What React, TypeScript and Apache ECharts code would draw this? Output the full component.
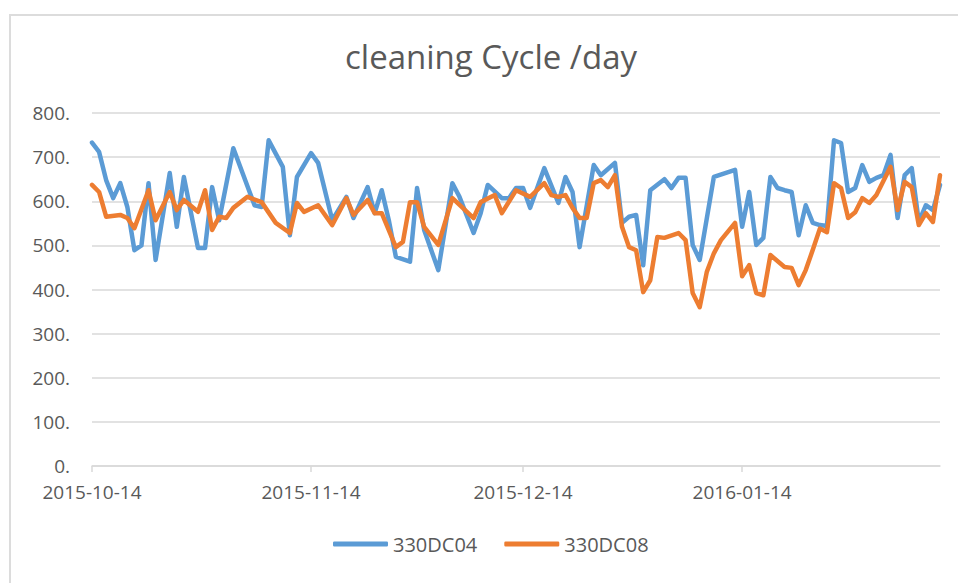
import React, { useEffect, useRef } from "react";
import * as echarts from "echarts";

// Days counted from the first date (2015-10-14), with the value read at that day
const startDate = "2015-10-14";
const dayCount = 121;
const xTickLabels = ["2015-10-14", "2015-11-14", "2015-12-14", "2016-01-14"];
const yTicks = [0, 100, 200, 300, 400, 500, 600, 700, 800];

const seriesNames = ["330DC04", "330DC08"];

const dc04: [number, number][] = [
  [0, 733], [1, 712], [2, 648], [3, 607], [4, 641], [5, 587], [6, 489], [7, 500],
  [8, 641], [9, 467], [11, 664], [12, 542], [13, 655], [15, 494], [16, 494], [17, 632],
  [18, 557], [20, 720], [23, 591], [24, 587], [25, 738], [27, 678], [28, 523], [29, 655],
  [31, 709], [32, 687], [34, 557], [36, 610], [37, 562], [39, 632], [40, 573], [41, 625],
  [42, 557], [43, 474], [45, 463], [46, 630], [47, 535], [49, 444], [51, 641], [52, 610],
  [54, 528], [55, 573], [56, 637], [58, 607], [59, 607], [60, 630], [61, 630], [62, 585],
  [64, 675], [66, 596], [67, 655], [68, 621], [69, 496], [71, 682], [72, 659], [74, 687],
  [75, 551], [76, 565], [77, 569], [78, 455], [79, 625], [81, 650], [82, 630], [83, 653],
  [84, 653], [85, 501], [86, 467], [88, 655], [91, 671], [92, 542], [93, 621], [94, 501],
  [95, 517], [96, 655], [97, 630], [98, 625], [99, 621], [100, 523], [101, 591], [102, 551],
  [103, 546], [104, 544], [105, 738], [106, 732], [107, 621], [108, 630], [109, 682], [110, 644],
  [111, 653], [112, 659], [113, 705], [114, 562], [115, 659], [116, 675], [117, 553], [118, 591],
  [119, 580], [120, 637],
];

const dc08: [number, number][] = [
  [0, 637], [1, 621], [2, 565], [4, 569], [5, 562], [6, 539], [8, 625], [9, 557],
  [11, 621], [12, 580], [13, 603], [15, 576], [16, 625], [17, 535], [18, 565], [19, 562],
  [20, 585], [22, 610], [24, 598], [26, 551], [28, 528], [29, 596], [30, 576], [32, 591],
  [34, 546], [36, 607], [37, 569], [39, 603], [40, 573], [41, 573], [43, 496], [44, 508],
  [45, 598], [46, 598], [47, 542], [49, 501], [51, 607], [54, 562], [55, 598], [57, 614],
  [58, 573], [60, 625], [62, 610], [64, 641], [65, 614], [66, 610], [67, 614], [68, 585],
  [69, 562], [70, 562], [71, 641], [72, 648], [73, 632], [74, 659], [75, 542], [76, 496],
  [77, 489], [78, 394], [79, 421], [80, 519], [81, 517], [83, 528], [84, 512], [85, 392],
  [86, 360], [87, 440], [88, 482], [89, 512], [91, 551], [92, 430], [93, 455], [94, 392],
  [95, 387], [96, 478], [98, 451], [99, 449], [100, 410], [101, 444], [102, 490], [103, 538],
  [104, 530], [105, 641], [106, 630], [107, 562], [108, 575], [109, 607], [110, 596], [111, 614],
  [113, 678], [114, 580], [115, 644], [116, 632], [117, 546], [118, 573], [119, 553], [120, 659],
];

function buildDates(start: string, n: number): string[] {
  const out: string[] = [];
  const d = new Date(start + "T00:00:00Z");
  for (let i = 0; i < n; i++) {
    const c = new Date(d.getTime() + i * 86400000);
    out.push(c.toISOString().slice(0, 10));
  }
  return out;
}

const textColor = "#595959";
const gridColor = "#d9d9d9";
const font = "'Open Sans', 'Noto Sans', sans-serif";

export default function App() {
  const ref = useRef<HTMLDivElement>(null);

  useEffect(() => {
    if (!ref.current) return;
    const chart = echarts.init(ref.current, undefined, { renderer: "svg" });
    const dates = buildDates(startDate, dayCount);
    const showTick = (_i: number, v: string) => xTickLabels.includes(v);
    chart.setOption({
      animation: false,
      backgroundColor: "transparent",
      title: {
        text: "cleaning Cycle /day",
        left: 340,
        top: 35,
        textStyle: { fontFamily: font, fontSize: 33, fontWeight: "normal", color: textColor },
      },
      legend: {
        bottom: 24,
        left: 328,
        itemWidth: 55,
        itemHeight: 5,
        itemGap: 27,
        icon: "roundRect",
        textStyle: { fontFamily: font, fontSize: 20, color: textColor },
        data: seriesNames,
      },
      grid: { left: 92, right: 18, top: 113, bottom: 117, containLabel: false },
      xAxis: {
        type: "category",
        data: dates,
        boundaryGap: false,
        axisLine: { lineStyle: { color: gridColor, width: 1.5 } },
        axisTick: { show: true, interval: showTick, length: 6, lineStyle: { color: gridColor, width: 1.5 } },
        axisLabel: {
          interval: showTick,
          margin: 16,
          color: textColor,
          fontFamily: font,
          fontSize: 19,
        },
        splitLine: { show: false },
      },
      yAxis: {
        type: "value",
        min: yTicks[0],
        max: yTicks[yTicks.length - 1],
        interval: 100,
        axisLine: { show: false },
        axisTick: { show: false },
        axisLabel: {
          margin: 22,
          color: textColor,
          fontFamily: font,
          fontSize: 19,
          formatter: (v: number) => v + ".",
        },
        splitLine: { lineStyle: { color: gridColor, width: 1.5 } },
      },
      series: [
        {
          name: seriesNames[0],
          type: "line",
          data: dc04,
          showSymbol: false,
          symbol: "none",
          color: "#5b9bd5",
          lineStyle: { width: 4.5, color: "#5b9bd5", cap: "round", join: "round" },
        },
        {
          name: seriesNames[1],
          type: "line",
          data: dc08,
          showSymbol: false,
          symbol: "none",
          color: "#ed7d31",
          lineStyle: { width: 4.5, color: "#ed7d31", cap: "round", join: "round" },
        },
      ],
    });
    return () => chart.dispose();
  }, []);

  return (
    <div style={{ position: "fixed", left: 0, top: 0, width: 958, height: 583, background: "#fff", overflow: "hidden" }}>
      <div
        style={{
          position: "absolute",
          left: 9,
          top: 14,
          width: 1000,
          height: 1000,
          borderLeft: "2px solid #dcdcdc",
          borderTop: "2px solid #dcdcdc",
          boxSizing: "border-box",
        }}
      />
      <div ref={ref} style={{ position: "absolute", left: 0, top: 0, width: 958, height: 583 }} />
    </div>
  );
}
